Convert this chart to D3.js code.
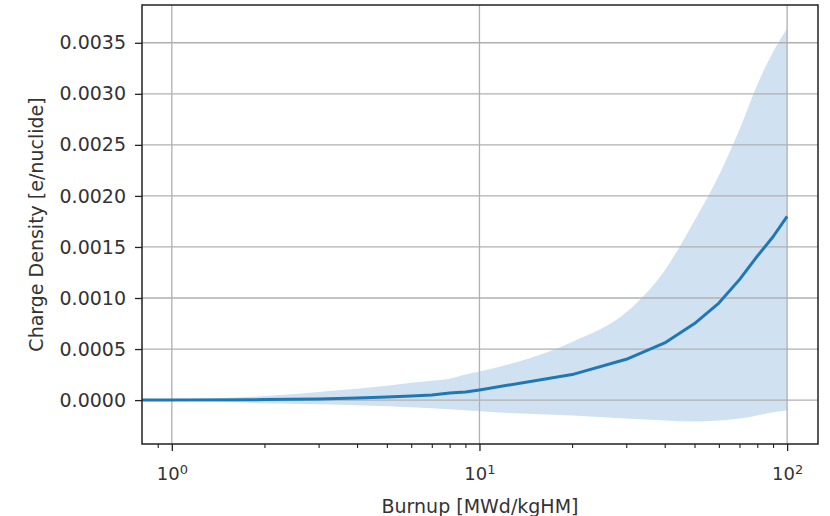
<!DOCTYPE html>
<html>
<head>
<meta charset="utf-8">
<script src="https://cdn.jsdelivr.net/npm/d3@7"></script>
<style>
  body { margin: 0; background: #fff; }
  svg { display: block; font-family: "DejaVu Sans", sans-serif; }
</style>
</head>
<body>
<section></section>
<script>
"use strict";

//Chart values
const burnup = [0.8, 1, 2, 3, 4, 5, 6, 7, 8, 9, 10, 20, 30, 40, 50, 60, 70, 80, 90, 100];
const meanDensity = [0, 0, 0.000005, 0.00001, 0.00002, 0.00003, 0.00004, 0.00005, 0.00007, 0.00008,
  0.0001, 0.00025, 0.0004, 0.00056, 0.00075, 0.00095, 0.00118, 0.00141, 0.0016, 0.0018];
const upperDensity = [0, 0.000005, 0.00004, 0.00008, 0.00011, 0.00014, 0.00017, 0.00019, 0.00021, 0.00025,
  0.00028, 0.00057, 0.00086, 0.00127, 0.00176, 0.0022, 0.00265, 0.00309, 0.00341, 0.00364];
const lowerDensity = [0, -0.000005, -0.00003, -0.00004, -0.00005, -0.00006, -0.00007, -0.00008, -0.00009, -0.0001,
  -0.00011, -0.00015, -0.00018, -0.0002, -0.00021, -0.0002, -0.00018, -0.00015, -0.00012, -0.0001];
const yTicks = [0, 0.0005, 0.001, 0.0015, 0.002, 0.0025, 0.003, 0.0035];
const xMajorTicks = [1, 10, 100];
const xMinorTicks = [0.9, 2, 3, 4, 5, 6, 7, 8, 9, 20, 30, 40, 50, 60, 70, 80, 90];
const xTitle = "Burnup [MWd/kgHM]";
const yTitle = "Charge Density [e/nuclide]";

const w = 830;
const h = 516;
const plot = { left: 142, right: 818, top: 5, bottom: 444 };

const svg = d3.select("section").append("svg").attr("width", w).attr("height", h);

const data = burnup.map((b, i) => ({
  x: b,
  mean: meanDensity[i],
  hi: upperDensity[i],
  lo: lowerDensity[i],
}));

//Scales
const xScale = d3.scaleLog().domain([0.8, 126]).range([plot.left, plot.right]);
const yScale = d3.scaleLinear().domain([-0.00043, 0.00387]).range([plot.bottom, plot.top]);

//Confidence band
const band = d3
  .area()
  .curve(d3.curveMonotoneX)
  .x((d) => xScale(d.x))
  .y0((d) => yScale(d.lo))
  .y1((d) => yScale(d.hi));

svg
  .append("path")
  .datum(data)
  .attr("d", band)
  .attr("fill", "rgb(208,226,241)");

//Grid lines
const grid = svg.append("g").attr("stroke", "#b0b0b0").attr("stroke-width", 1.3);
grid
  .selectAll("line.gx")
  .data(xMajorTicks)
  .enter()
  .append("line")
  .attr("x1", (d) => xScale(d))
  .attr("x2", (d) => xScale(d))
  .attr("y1", plot.top)
  .attr("y2", plot.bottom);
grid
  .selectAll("line.gy")
  .data(yTicks)
  .enter()
  .append("line")
  .attr("x1", plot.left)
  .attr("x2", plot.right)
  .attr("y1", (d) => yScale(d))
  .attr("y2", (d) => yScale(d));

//Mean line
const line = d3
  .line()
  .x((d) => xScale(d.x))
  .y((d) => yScale(d.mean));

svg
  .append("path")
  .datum(data)
  .attr("d", line)
  .attr("fill", "none")
  .attr("stroke", "#1f77b4")
  .attr("stroke-width", 3)
  .attr("stroke-linejoin", "round");

//Frame
svg
  .append("rect")
  .attr("x", plot.left)
  .attr("y", plot.top)
  .attr("width", plot.right - plot.left)
  .attr("height", plot.bottom - plot.top)
  .attr("fill", "none")
  .attr("stroke", "#222")
  .attr("stroke-width", 1.5);

//y Axis
const yAxis = d3
  .axisLeft(yScale)
  .tickValues(yTicks)
  .tickFormat(d3.format(".4f"))
  .tickSize(7)
  .tickPadding(9);

svg
  .append("g")
  .attr("transform", `translate(${plot.left}, 0)`)
  .call(yAxis)
  .call((g) => g.select(".domain").remove())
  .call((g) => g.selectAll(".tick line").attr("stroke", "#222").attr("stroke-width", 1.3))
  .call((g) =>
    g.selectAll(".tick text").attr("font-size", 19).attr("fill", "#333").attr("font-family", "DejaVu Sans")
  );

//x Axis, minor ticks
svg
  .append("g")
  .attr("transform", `translate(0, ${plot.bottom})`)
  .call(d3.axisBottom(xScale).tickValues(xMinorTicks).tickFormat("").tickSize(4))
  .call((g) => g.select(".domain").remove())
  .call((g) => g.selectAll(".tick line").attr("stroke", "#222").attr("stroke-width", 1.1));

//x Axis, major ticks with power labels
const xAxisG = svg
  .append("g")
  .attr("transform", `translate(0, ${plot.bottom})`)
  .call(d3.axisBottom(xScale).tickValues(xMajorTicks).tickFormat("").tickSize(7))
  .call((g) => g.select(".domain").remove())
  .call((g) => g.selectAll(".tick line").attr("stroke", "#222").attr("stroke-width", 1.3));

xAxisG.selectAll(".tick text").remove();
xAxisG
  .selectAll(".tick")
  .append("text")
  .attr("y", 36)
  .attr("text-anchor", "middle")
  .attr("fill", "#333")
  .attr("font-size", 18)
  .attr("font-family", "DejaVu Sans")
  .each(function (d) {
    const t = d3.select(this);
    t.append("tspan").text("10");
    t.append("tspan").attr("font-size", 13).attr("dy", -6).text(Math.round(Math.log10(d)));
  });

//Axis titles
svg
  .append("text")
  .attr("x", (plot.left + plot.right) / 2)
  .attr("y", 513)
  .attr("text-anchor", "middle")
  .attr("font-size", 19)
  .attr("fill", "#333")
  .text(xTitle);

svg
  .append("text")
  .attr("transform", `translate(43, ${(plot.top + plot.bottom) / 2}) rotate(-90)`)
  .attr("text-anchor", "middle")
  .attr("font-size", 19)
  .attr("fill", "#333")
  .text(yTitle);
</script>
</body>
</html>
